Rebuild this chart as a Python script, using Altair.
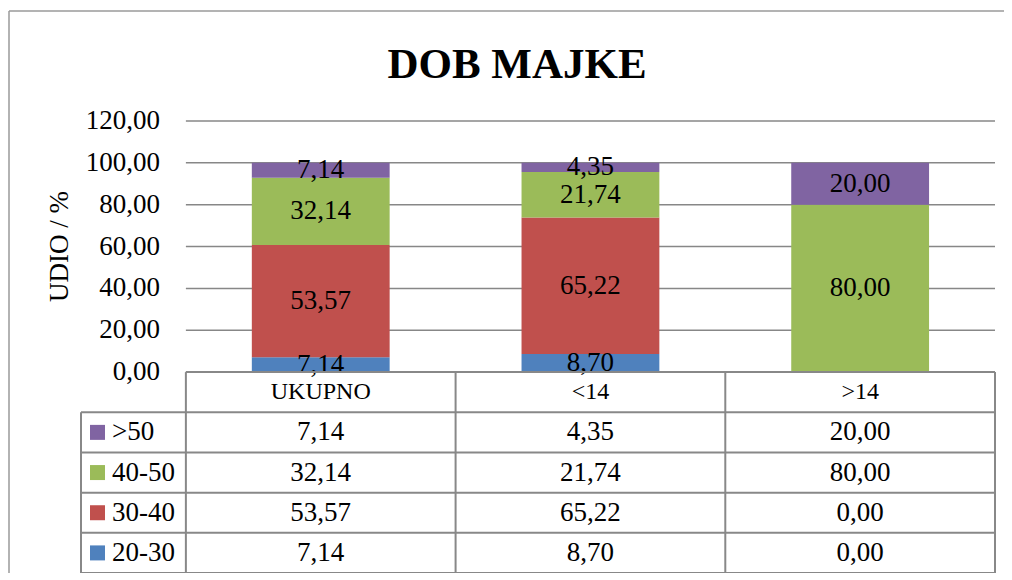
import altair as alt
import pandas as pd

# ---------------- data ----------------
categories = ["UKUPNO", "<14", ">14"]
series = ["20-30", "30-40", "40-50", ">50"]
colors = ["#4F81BD", "#C0504D", "#9BBB59", "#8064A2"]
v_20_30 = [7.14, 8.70, 0.00]
v_30_40 = [53.57, 65.22, 0.00]
v_40_50 = [32.14, 21.74, 80.00]
v_gt_50 = [7.14, 4.35, 20.00]
y_ticks = [0, 20, 40, 60, 80, 100, 120]
y_title = "UDIO  / %"
chart_title = "DOB MAJKE"

# ---------------- style / layout constants ----------------
FONT = "Liberation Serif"
GRID = "#878787"
LINE = "#888888"
BAR_W = 0.511          # bar width in category units
LEG_W = 105 / 270      # legend column width in category units
ROW_H = 19.2           # table row height in y units
N_ROWS = len(series) + 1
NC = len(categories)
Y_MAX = 120


def fmt(v):
    return f"{v:.2f}".replace(".", ",")


values_by_series = [v_20_30, v_30_40, v_40_50, v_gt_50]
recs = []
for j, (s, vals) in enumerate(zip(series, values_by_series)):
    for i, c in enumerate(categories):
        recs.append({"series": s, "order": j, "cat": c, "idx": i, "value": vals[i]})
df = pd.DataFrame(recs).sort_values(["idx", "order"])
df["hi"] = df.groupby("idx")["value"].cumsum()
df["lo"] = df["hi"] - df["value"]
df["mid"] = (df["lo"] + df["hi"]) / 2
df["x0"] = df["idx"] + 0.5 - BAR_W / 2
df["x1"] = df["idx"] + 0.5 + BAR_W / 2
df["tx"] = df["idx"] + 0.5
df["label"] = df["value"].map(fmt)
df["row"] = len(series) - df["order"]
df["ty"] = -(df["row"] + 0.5) * ROW_H

xs = alt.Scale(domain=[-LEG_W, NC], nice=False, zero=False)
ys = alt.Scale(domain=[-N_ROWS * ROW_H, Y_MAX], nice=False, zero=False)

one = pd.DataFrame({"a": [0]})
# decorative outer chart border (top and left edges; the others run off the page)
frame_top = alt.Chart(one).mark_rule(color="#9a9a9a", strokeWidth=1.5).encode(
    x=alt.value(-72), x2=alt.value(1100), y=alt.value(-110)
)
frame_left = alt.Chart(one).mark_rule(color="#9a9a9a", strokeWidth=1.5).encode(
    x=alt.value(-72), y=alt.value(-110), y2=alt.value(1000)
)

# gridlines
grid_df = pd.DataFrame({"v": y_ticks, "xa": 0, "xb": NC, "lab": [fmt(v) for v in y_ticks]})
grid = alt.Chart(grid_df).mark_rule(color=GRID, strokeWidth=1.5).encode(
    y=alt.Y("v:Q", scale=ys, axis=None),
    x=alt.X("xa:Q", scale=xs, axis=None),
    x2="xb:Q",
)
# y tick labels (value axis)
tick_labels = alt.Chart(grid_df).mark_text(
    font=FONT, fontSize=27, color="black", align="right", baseline="middle", dx=-26
).encode(
    y=alt.Y("v:Q", scale=ys, axis=None),
    x=alt.X("xa:Q", scale=xs, axis=None),
    text="lab:N",
)
# y axis title
ytitle_df = pd.DataFrame({"t": [y_title], "x": [-LEG_W - 21 / 270], "y": [Y_MAX / 2]})
ytitle = alt.Chart(ytitle_df).mark_text(
    font=FONT, fontSize=27, color="black", align="center", baseline="middle", angle=270
).encode(
    x=alt.X("x:Q", scale=xs, axis=None),
    y=alt.Y("y:Q", scale=ys, axis=None),
    text="t:N",
)

bars = alt.Chart(df).mark_rect().encode(
    x=alt.X("x0:Q", scale=xs, axis=None),
    x2="x1:Q",
    y=alt.Y("lo:Q", scale=ys, axis=None),
    y2="hi:Q",
    color=alt.Color("series:N", scale=alt.Scale(domain=series, range=colors), legend=None),
)

bar_labels = alt.Chart(df).transform_filter("datum.value > 0").mark_text(
    font=FONT, fontSize=27, color="black", baseline="middle", align="center"
).encode(
    x=alt.X("tx:Q", scale=xs, axis=None),
    y=alt.Y("mid:Q", scale=ys, axis=None),
    text="label:N",
)

# table grid lines
h_recs = [{"y": 0.0, "xa": 0, "xb": NC}] + [
    {"y": -k * ROW_H, "xa": -LEG_W, "xb": NC} for k in range(1, N_ROWS + 1)
]
v_recs = [{"x": -LEG_W, "ya": -ROW_H, "yb": -N_ROWS * ROW_H}] + [
    {"x": float(k), "ya": 0.0, "yb": -N_ROWS * ROW_H} for k in range(0, NC + 1)
]
hlines = alt.Chart(pd.DataFrame(h_recs)).mark_rule(color=LINE, strokeWidth=2).encode(
    y=alt.Y("y:Q", scale=ys, axis=None),
    x=alt.X("xa:Q", scale=xs, axis=None),
    x2="xb:Q",
)
vlines = alt.Chart(pd.DataFrame(v_recs)).mark_rule(color=LINE, strokeWidth=2).encode(
    x=alt.X("x:Q", scale=xs, axis=None),
    y=alt.Y("ya:Q", scale=ys, axis=None),
    y2="yb:Q",
)

# header row
head_df = pd.DataFrame({"cat": categories, "tx": [i + 0.5 for i in range(NC)], "ty": -0.5 * ROW_H})
header = alt.Chart(head_df).mark_text(
    font=FONT, fontSize=24, color="black", baseline="middle", align="center"
).encode(
    x=alt.X("tx:Q", scale=xs, axis=None),
    y=alt.Y("ty:Q", scale=ys, axis=None),
    text="cat:N",
)

cells = alt.Chart(df).mark_text(
    font=FONT, fontSize=27, color="black", baseline="middle", align="center"
).encode(
    x=alt.X("tx:Q", scale=xs, axis=None),
    y=alt.Y("ty:Q", scale=ys, axis=None),
    text="label:N",
)

leg_df = pd.DataFrame({
    "series": series,
    "ty": [-(len(series) - j + 0.5) * ROW_H for j in range(len(series))],
    "sx": -LEG_W + 16.5 / 270,
    "lx": -LEG_W + 31 / 270,
})
leg_sq = alt.Chart(leg_df).mark_point(shape="square", filled=True, size=225, opacity=1).encode(
    x=alt.X("sx:Q", scale=xs, axis=None),
    y=alt.Y("ty:Q", scale=ys, axis=None),
    color=alt.Color("series:N", scale=alt.Scale(domain=series, range=colors), legend=None),
)
leg_txt = alt.Chart(leg_df).mark_text(
    font=FONT, fontSize=27, color="black", baseline="middle", align="left"
).encode(
    x=alt.X("lx:Q", scale=xs, axis=None),
    y=alt.Y("ty:Q", scale=ys, axis=None),
    text="series:N",
)

chart = alt.layer(
    frame_top, frame_left, grid, tick_labels, ytitle, bars, bar_labels,
    hlines, vlines, header, cells, leg_sq, leg_txt
).properties(
    width=914,
    height=452,
    title=alt.TitleParams(
        text=chart_title,
        font=FONT,
        fontSize=43,
        fontWeight="bold",
        color="black",
        anchor="middle",
        frame="group",
        baseline="alphabetic",
        dx=-21,
        offset=-111,
    ),
    autosize=alt.AutoSizeParams(type="none"),
    padding={"left": 73, "top": 113, "right": 9, "bottom": 0},
    background="white",
).configure_view(stroke=None)

chart.save("out.html", embed_options={"renderer": "svg", "actions": False})
